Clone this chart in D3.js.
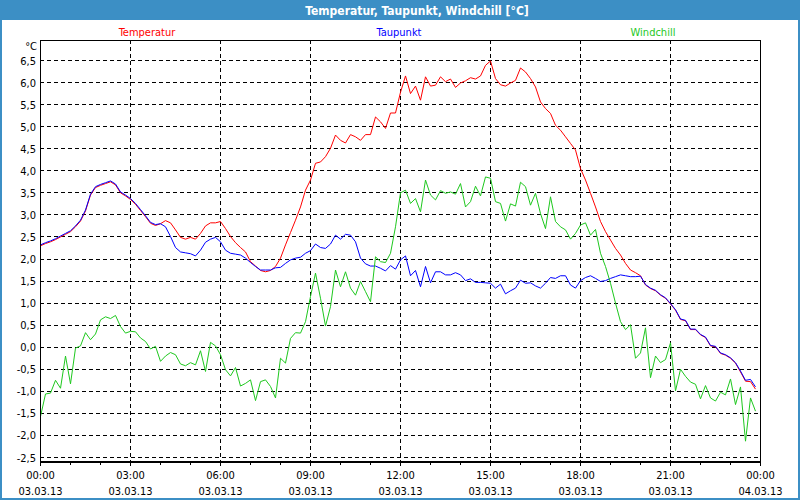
<!DOCTYPE html>
<html><head><meta charset="utf-8">
<script src="https://cdn.jsdelivr.net/npm/d3@7"></script>
<style>
html,body{margin:0;padding:0;background:#fff;}
svg{display:block;}
text{font-family:Tahoma,"DejaVu Sans Condensed","Liberation Sans",Arial,sans-serif;}
</style></head>
<body>
<svg id="chart" width="800" height="500"></svg>
<script>
const title = "Temperatur, Taupunkt, Windchill [°C]";
const seriesNames = ["Temperatur", "Taupunkt", "Windchill"];
const seriesColors = ["#ff0000", "#0000ff", "#1ec81e"];
const startTime = "2013-03-03T00:00:00";
const stepMinutes = 10;

const temperatur = [
 2.30,2.35,2.39,2.44,2.50,2.56,2.62,2.73,2.86,3.09,3.45,3.62,3.67,3.71,3.75,3.68,3.50,3.43,3.35,3.24,3.10,2.96,2.81,2.76,
 2.80,2.87,2.82,2.66,2.49,2.45,2.49,2.45,2.58,2.75,2.82,2.82,2.85,2.69,2.51,2.37,2.26,2.16,1.94,1.84,1.74,1.71,1.74,1.83,
 2.02,2.32,2.60,2.88,3.18,3.56,3.79,4.17,4.20,4.32,4.51,4.81,4.69,4.63,4.82,4.77,4.69,4.82,4.82,5.22,5.11,4.96,5.31,5.31,
 5.78,6.15,5.75,5.92,5.60,6.13,5.92,5.94,6.13,6.02,6.08,5.89,5.99,6.04,6.11,6.08,6.15,6.39,6.49,6.09,5.95,5.92,5.99,6.05,
 6.33,6.24,6.09,5.90,5.56,5.41,5.30,5.03,4.92,4.77,4.62,4.47,4.05,3.79,3.49,3.18,2.85,2.62,2.43,2.24,2.09,1.90,1.75,1.69,
 1.62,1.41,1.33,1.28,1.18,1.11,0.98,0.84,0.63,0.60,0.40,0.40,0.28,0.22,0.03,0.01,-0.14,-0.18,-0.25,-0.36,-0.56,-0.77,-0.78,-0.95
];
const taupunkt = [
 2.32,2.37,2.41,2.46,2.52,2.58,2.64,2.75,2.88,3.11,3.47,3.64,3.69,3.73,3.77,3.70,3.52,3.45,3.37,3.26,3.12,2.98,2.83,2.78,
 2.80,2.73,2.51,2.26,2.16,2.14,2.12,2.07,2.20,2.38,2.45,2.49,2.39,2.20,2.13,2.11,2.09,2.02,1.92,1.83,1.75,1.75,1.75,1.80,
 1.81,1.90,1.98,2.02,2.04,2.13,2.19,2.34,2.26,2.24,2.34,2.54,2.45,2.56,2.54,2.39,2.02,1.89,1.84,1.84,1.79,1.73,1.85,1.77,
 1.98,2.07,1.62,1.74,1.37,1.83,1.46,1.71,1.71,1.64,1.64,1.69,1.64,1.51,1.55,1.47,1.47,1.46,1.45,1.34,1.43,1.21,1.28,1.34,
 1.52,1.45,1.46,1.39,1.34,1.45,1.58,1.56,1.62,1.62,1.41,1.34,1.51,1.58,1.62,1.56,1.49,1.51,1.56,1.60,1.64,1.62,1.60,1.60,
 1.61,1.42,1.34,1.29,1.19,1.12,0.99,0.85,0.64,0.61,0.41,0.41,0.29,0.23,0.04,0.02,-0.13,-0.17,-0.24,-0.35,-0.54,-0.75,-0.73,-0.90
];
const windchill = [
 -1.57,-1.06,-1.04,-0.75,-0.93,-0.20,-0.83,-0.02,0.03,0.33,0.17,0.30,0.62,0.69,0.65,0.72,0.47,0.32,0.36,0.35,0.21,0.13,-0.04,0.02,
 -0.32,-0.20,-0.12,-0.17,-0.38,-0.42,-0.35,-0.40,-0.08,-0.55,0.11,0.03,-0.17,-0.51,-0.65,-0.46,-0.88,-0.82,-0.74,-1.21,-0.78,-0.74,-0.89,-1.15,
 -0.25,-0.36,0.20,0.33,0.32,0.58,1.15,1.68,1.11,0.48,0.92,1.75,1.37,1.71,1.34,1.18,1.49,1.26,1.03,2.05,1.94,1.92,2.13,2.73,
 3.50,3.56,3.26,3.37,3.07,3.79,3.45,3.34,3.55,3.49,3.52,3.47,3.71,3.18,3.30,3.65,3.43,3.86,3.83,3.30,3.26,2.86,3.25,3.20,
 3.74,3.64,3.22,3.49,3.03,2.69,3.41,2.85,2.73,2.66,2.45,2.58,2.77,2.82,2.54,2.67,2.13,1.83,1.45,1.00,0.58,0.40,0.51,-0.25,
 -0.13,0.44,-0.69,-0.20,-0.35,-0.28,0.10,-0.99,-0.50,-0.66,-0.79,-0.84,-1.17,-0.87,-1.15,-1.22,-1.02,-1.08,-0.72,-1.30,-0.90,-2.13,-1.15,-1.45
];
const yTicks = [-2.5,-2.0,-1.5,-1.0,-0.5,0.0,0.5,1.0,1.5,2.0,2.5,3.0,3.5,4.0,4.5,5.0,5.5,6.0,6.5];
const xTickLabels = [
 ["00:00","03.03.13"],["03:00","03.03.13"],["06:00","03.03.13"],["09:00","03.03.13"],["12:00","03.03.13"],
 ["15:00","03.03.13"],["18:00","03.03.13"],["21:00","03.03.13"],["00:00","04.03.13"]
];
const yUnit = "°C";

const svg = d3.select("#chart");
const W = 800, H = 500;
const frameColor = "#3c8fc5";
const plotL = 40, plotR = 760, plotT = 40, plotB = 461;

// window frame
svg.append("rect").attr("x",0).attr("y",0).attr("width",W).attr("height",H).attr("fill",frameColor);
svg.append("rect").attr("x",2).attr("y",20).attr("width",W-4).attr("height",H-22).attr("fill","#fff");
svg.append("text").attr("x",417).attr("y",14.5).attr("text-anchor","middle")
  .attr("fill","#fff").attr("font-size","12px").attr("font-weight","bold").text(title);

const t0 = new Date(startTime);
const t1 = d3.timeDay.offset(t0, 1);
const x = d3.scaleTime().domain([t0, t1]).range([plotL + 0.5, plotR + 0.5]);
const y = d3.scaleLinear().domain([-2.5, 6.5]).range([457.5, 60.5]);

const fmt = v => d3.format(".1f")(v).replace(".", ",").replace("−","-");

// horizontal grid
svg.append("g").selectAll("line").data(yTicks).join("line")
  .attr("x1", plotL).attr("x2", plotR)
  .attr("y1", d => Math.round(y(d)-0.5)+0.5).attr("y2", d => Math.round(y(d)-0.5)+0.5)
  .attr("stroke","#000").attr("stroke-width",1).attr("stroke-dasharray","4,3")
  .attr("shape-rendering","crispEdges");

// vertical grid
const majorTimes = d3.timeHour.every(3).range(t0, d3.timeMinute.offset(t1,1));
svg.append("g").selectAll("line").data(majorTimes.slice(1, -1)).join("line")
  .attr("x1", d => x(d)).attr("x2", d => x(d))
  .attr("y1", plotT).attr("y2", plotB)
  .attr("stroke","#000").attr("stroke-width",1).attr("stroke-dasharray","4,3")
  .attr("shape-rendering","crispEdges");

// plot frame
svg.append("rect").attr("x",plotL+0.5).attr("y",plotT+0.5).attr("width",plotR-plotL).attr("height",plotB-plotT)
  .attr("fill","none").attr("stroke","#000").attr("stroke-width",1).attr("shape-rendering","crispEdges");
svg.append("line").attr("x1",plotL).attr("x2",plotR+1).attr("y1",plotB+0.5).attr("y2",plotB+0.5)
  .attr("stroke","#000").attr("stroke-width",2).attr("shape-rendering","crispEdges");

// x axis ticks
const hourTimes = d3.timeHour.every(1).range(t0, d3.timeMinute.offset(t1,1));
svg.append("g").selectAll("line").data(hourTimes).join("line")
  .attr("x1", d => x(d)).attr("x2", d => x(d))
  .attr("y1", plotB+1).attr("y2", d => d.getHours() % 3 === 0 ? plotB+5 : plotB+4)
  .attr("stroke","#000").attr("stroke-width",1).attr("shape-rendering","crispEdges");

// x labels
const xl = svg.append("g").attr("font-size","11px").attr("fill","#000").attr("text-anchor","middle");
majorTimes.forEach((d, i) => {
  const lab = xTickLabels[i];
  xl.append("text").attr("x", x(d)).attr("y", 479).text(lab[0]);
  xl.append("text").attr("x", x(d)).attr("y", 495).text(lab[1]);
});

// y labels
const yl = svg.append("g").attr("font-size","11px").attr("fill","#000").attr("text-anchor","end");
yTicks.forEach(v => {
  yl.append("text").attr("x", 36).attr("y", y(v)+4).text(fmt(v));
});
yl.append("text").attr("x", 37).attr("y", 50).text(yUnit);

// legend
const legendX = [147, 399, 653];
seriesNames.forEach((n, i) => {
  svg.append("text").attr("x", legendX[i]).attr("y", 36).attr("text-anchor","middle")
    .attr("font-size","11px").attr("fill", seriesColors[i]).text(n);
});

// lines
const series = [temperatur, taupunkt, windchill];
const line = d3.line()
  .x((d, i) => x(d3.timeMinute.offset(t0, i * stepMinutes)))
  .y(d => y(d));
const clip = svg.append("clipPath").attr("id","clp").append("rect")
  .attr("x",plotL+1).attr("y",plotT+1).attr("width",plotR-plotL-1).attr("height",plotB-plotT-1);
series.forEach((s, i) => {
  svg.append("path").datum(s).attr("d", line).attr("fill","none")
    .attr("stroke", seriesColors[i]).attr("stroke-width",1)
    .attr("clip-path","url(#clp)");
});
</script>
</body></html>
